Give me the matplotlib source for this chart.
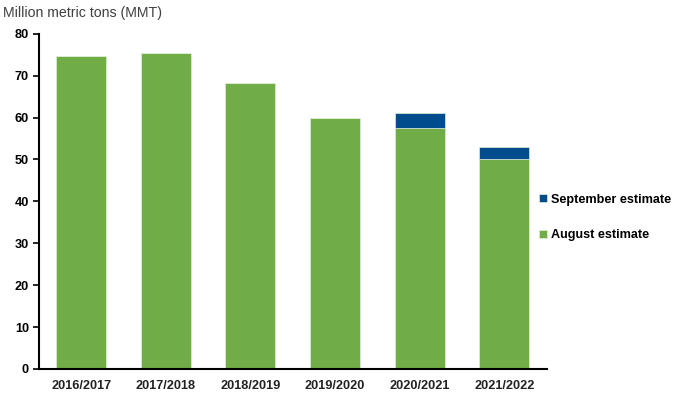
import matplotlib.pyplot as plt
import numpy as np

plt.rcParams['font.family'] = ['Liberation Sans', 'DejaVu Sans']

years = ['2016/2017', '2017/2018', '2018/2019', '2019/2020', '2020/2021', '2021/2022']
august = [74.7, 75.4, 68.3, 59.9, 57.5, 50.1]
september = [0, 0, 0, 0, 3.7, 2.9]

green = '#70AD47'
blue = '#004C8C'

fig = plt.figure(figsize=(6.8, 3.98), dpi=100)
ax = fig.add_axes([0.057, 0.073, 0.747, 0.842])

x = np.arange(len(years))
ax.bar(x, august, width=0.59, color=green, edgecolor='#dfeed6', linewidth=0.5, label='August estimate')
ax.bar(x, september, width=0.59, bottom=august, color=blue, edgecolor='#dfeed6', linewidth=0.5,
       label='September estimate')

ax.set_xlim(-0.5, len(years) - 0.5)
ax.set_ylim(0, 80)
ax.set_yticks(range(0, 81, 10))
ax.set_xticks(x)
ax.set_xticklabels(years, fontweight='bold', fontsize=9.2, color='#222222')
ax.tick_params(axis='x', length=0, pad=8)
ax.tick_params(axis='y', direction='out', length=4, width=1.2, labelsize=9.2, pad=3)
for lbl in ax.get_yticklabels():
    lbl.set_fontweight('bold')

for s in ['top', 'right']:
    ax.spines[s].set_visible(False)
ax.spines['left'].set_linewidth(1.5)
ax.spines['bottom'].set_linewidth(1.5)

fig.text(0.005, 0.968, 'Million metric tons (MMT)', fontsize=10.2, color='#404040', va='center')

handles, labels = ax.get_legend_handles_labels()
leg = fig.legend(handles[::-1], labels[::-1], loc='upper left', bbox_to_anchor=(0.776, 0.542),
                 frameon=False, handlelength=0.6, handleheight=0.6, handletextpad=0.35,
                 labelspacing=1.85, prop={'weight': 'bold', 'size': 9.1})

fig.savefig('out.png', dpi=100)
